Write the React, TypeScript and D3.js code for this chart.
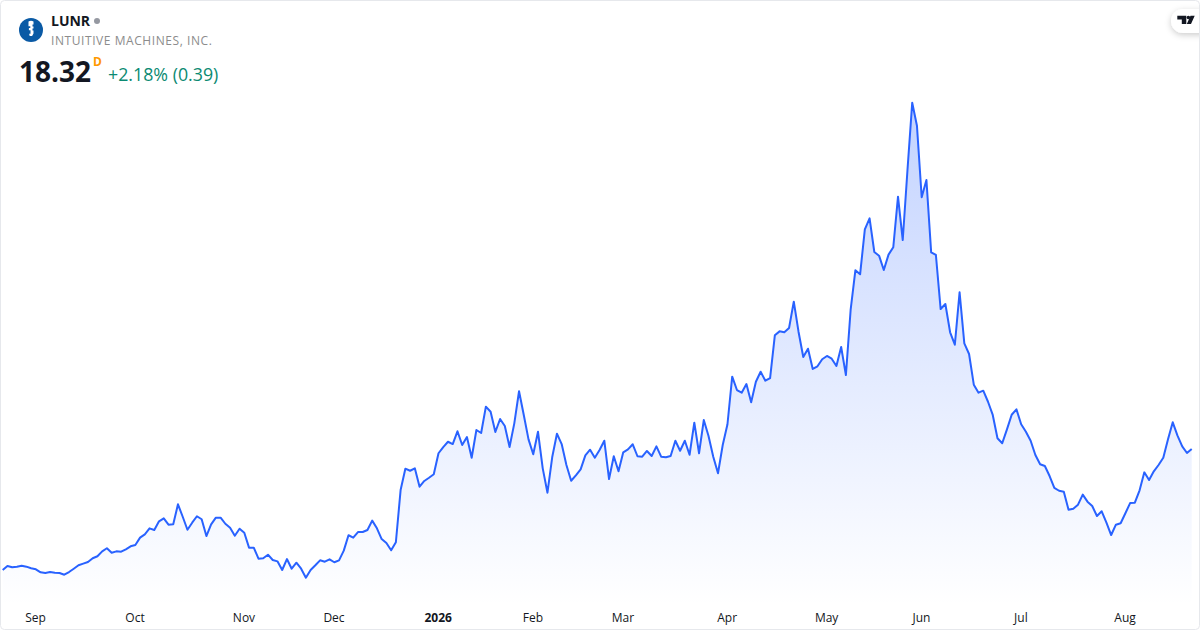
import React, { useEffect, useRef } from "react";
import { select, scaleLinear, line, area, axisBottom, curveLinear } from "d3";

const WIDTH = 1200;
const HEIGHT = 630;

// daily close
const prices: number[] = [
  7.8, 8.15, 8.03, 8.09, 8.17, 8.09, 7.95, 7.86, 7.6, 7.54, 7.62, 7.56, 7.54, 7.39, 7.62, 7.91, 8.21, 8.35, 8.49, 8.82,
  8.99, 9.42, 9.69, 9.3, 9.42, 9.39, 9.6, 9.86, 9.97, 10.61, 10.9, 11.42, 11.28, 12.03, 12.29, 11.74, 11.77, 13.51, 12.43, 11.3,
  11.91, 12.47, 12.21, 10.75, 11.77, 12.35, 12.35, 11.82, 11.48, 10.78, 11.39, 11.04, 9.74, 9.74, 8.78, 8.82, 9.13, 8.67, 8.55, 7.8,
  8.75, 7.91, 8.43, 7.91, 7.13, 7.8, 8.21, 8.64, 8.52, 8.73, 8.47, 8.64, 9.48, 10.82, 10.61, 11.1, 11.1, 11.28, 12.09, 11.42,
  10.49, 10.15, 9.51, 10.21, 14.75, 16.61, 16.43, 16.64, 15.04, 15.54, 15.82, 16.12, 17.95, 18.49, 18.95, 18.75, 19.86, 18.67, 19.36, 17.56,
  19.97, 19.71, 22.0, 21.56, 19.8, 20.93, 20.32, 18.49, 20.55, 23.34, 21.28, 19.16, 17.86, 19.82, 16.64, 14.52, 17.6, 19.65, 18.75, 16.93,
  15.56, 16.03, 16.55, 17.77, 18.26, 17.56, 18.23, 19.04, 15.71, 17.69, 16.38, 18.03, 18.29, 18.73, 17.69, 17.65, 18.15, 17.71, 18.55, 17.65,
  17.6, 17.71, 19.04, 18.17, 19.04, 17.82, 20.61, 17.95, 20.84, 19.45, 17.65, 16.21, 18.67, 20.47, 24.61, 23.45, 23.22, 23.97, 22.38, 24.17,
  25.04, 24.26, 24.49, 28.21, 28.55, 28.47, 28.84, 31.13, 28.52, 26.32, 27.04, 25.28, 25.51, 26.12, 26.41, 26.17, 25.54, 27.19, 24.75, 30.41,
  33.86, 33.51, 37.42, 38.38, 35.45, 35.13, 33.89, 35.22, 35.86, 40.26, 36.49, 42.58, 48.43, 46.43, 40.21, 41.71, 35.42, 35.19, 30.49, 30.93,
  28.47, 27.39, 31.95, 27.51, 26.58, 23.91, 23.22, 23.39, 22.43, 21.28, 19.25, 18.82, 20.03, 21.3, 21.77, 20.47, 19.82, 19.04, 17.8, 16.99,
  16.84, 15.97, 14.93, 14.69, 14.61, 13.04, 13.13, 13.48, 14.35, 13.74, 13.36, 12.49, 12.9, 11.91, 10.84, 11.74, 11.86, 12.73, 13.62, 13.65,
  14.73, 16.29, 15.62, 16.38, 16.93, 17.56, 19.16, 20.64, 19.48, 18.55, 17.97, 18.32,
];

const monthIndex = [7, 28, 51, 70, 92, 112, 131, 153, 174, 194, 215, 237];
const monthLabels = ["Sep", "Oct", "Nov", "Dec", "2026", "Feb", "Mar", "Apr", "May", "Jun", "Jul", "Aug"];

const symbol = "LUNR";
const company = "INTUITIVE MACHINES, INC.";
const lastPrice = "18.32";
const change = "+2.18% (0.39)";

const FONT = "'Open Sans', sans-serif";

function App() {
  const axisRef = useRef<SVGGElement>(null);

  const x = scaleLinear().domain([0, prices.length - 1]).range([2.7, 1191.7]);
  const y = scaleLinear().domain([0, 50]).range([659.68, 84.68]);
  const bottom = 606;

  const linePath = line<number>()
    .x((_, i) => x(i))
    .y((d) => y(d))
    .curve(curveLinear);
  const areaPath = area<number>()
    .x((_, i) => x(i))
    .y0(bottom)
    .y1((d) => y(d));

  useEffect(() => {
    const g = select(axisRef.current);
    g.selectAll("*").remove();
    const axis = axisBottom(x)
      .tickValues(monthIndex)
      .tickSize(0)
      .tickPadding(0)
      .tickFormat((_, i) => monthLabels[i]);
    g.call(axis as any);
    g.select(".domain").remove();
    g.selectAll("text")
      .attr("y", 0)
      .attr("dy", 0)
      .style("font-family", FONT)
      .style("font-size", "12px")
      .style("fill", "#131722")
      .style("font-weight", (_, i) => (monthLabels[i] === "2026" ? 700 : 400));
  }, []);

  return (
    <svg
      width={WIDTH}
      height={HEIGHT}
      style={{ position: "absolute", left: 0, top: 0, background: "#fff" }}
    >
      <defs>
        <linearGradient id="fill" gradientUnits="userSpaceOnUse" x1="0" x2="0" y1={y(48.43)} y2={bottom}>
          <stop offset="0" stopColor="#2962FF" stopOpacity={0.28} />
          <stop offset="1" stopColor="#2962FF" stopOpacity={0} />
        </linearGradient>
        <filter id="pillShadow" x="-30%" y="-50%" width="160%" height="200%">
          <feDropShadow dx="0" dy="2" stdDeviation="3" floodColor="#000" floodOpacity="0.2" />
        </filter>
      </defs>

      <path d={areaPath(prices) || ""} fill="url(#fill)" />
      <path d={linePath(prices) || ""} fill="none" stroke="#2962FF" strokeWidth={2} strokeLinejoin="round" />

      <g ref={axisRef} transform="translate(-0.8,622)" />

      {/* header */}
      <circle cx={31} cy={30} r={12} fill="#0A5AA5" />
      <path
        d="M28.5 21.5 q2.5 -1.4 5 0 v3 h-1 v2 h1 v2 h-1 v2 h1 v3 l-1.4 2.6 h-2.4 l-0.6 -2.4 h1.4 v-3.4 h-1.6 v-2.4 h1.4 v-1.6 h-1.8 z"
        fill="#fff"
      />
      <text x={51} y={26} fontFamily={FONT} fontSize={14} fontWeight={700} fill="#131722">
        {symbol}
      </text>
      <circle cx={97} cy={21} r={3} fill="#9598A1" />
      <text x={51} y={45} fontFamily={FONT} fontSize={12} fill="#8C8C8C" letterSpacing={0.57}>
        {company}
      </text>
      <text x={19} y={82} fontFamily={FONT} fontSize={28} fontWeight={700} fill="#131722">
        {lastPrice}
      </text>
      <text x={93} y={66} fontFamily={FONT} fontSize={12} fontWeight={700} fill="#FF9800">
        D
      </text>
      <text x={108} y={81} fontFamily={FONT} fontSize={17.8} fill="#0B8A72">
        {change}
      </text>

      {/* logo pill */}
      <rect x={1171} y={9} width={50} height={24} rx={12} fill="#fff" filter="url(#pillShadow)" />
      <path d="M1177.3 15.7 h9 v8.3 h-4.5 v-4.6 h-4.5 z M1194.7 15.7 l-3.7 8.3 h-4.2 l3.7 -8.3 z" fill="#131722" />
      <circle cx={1188.4} cy={17.5} r={1.8} fill="#131722" />

      <rect x={0.5} y={0.5} width={WIDTH - 1} height={HEIGHT - 1} rx={4} fill="none" stroke="#E6E8EC" />
    </svg>
  );
}

export default App;
